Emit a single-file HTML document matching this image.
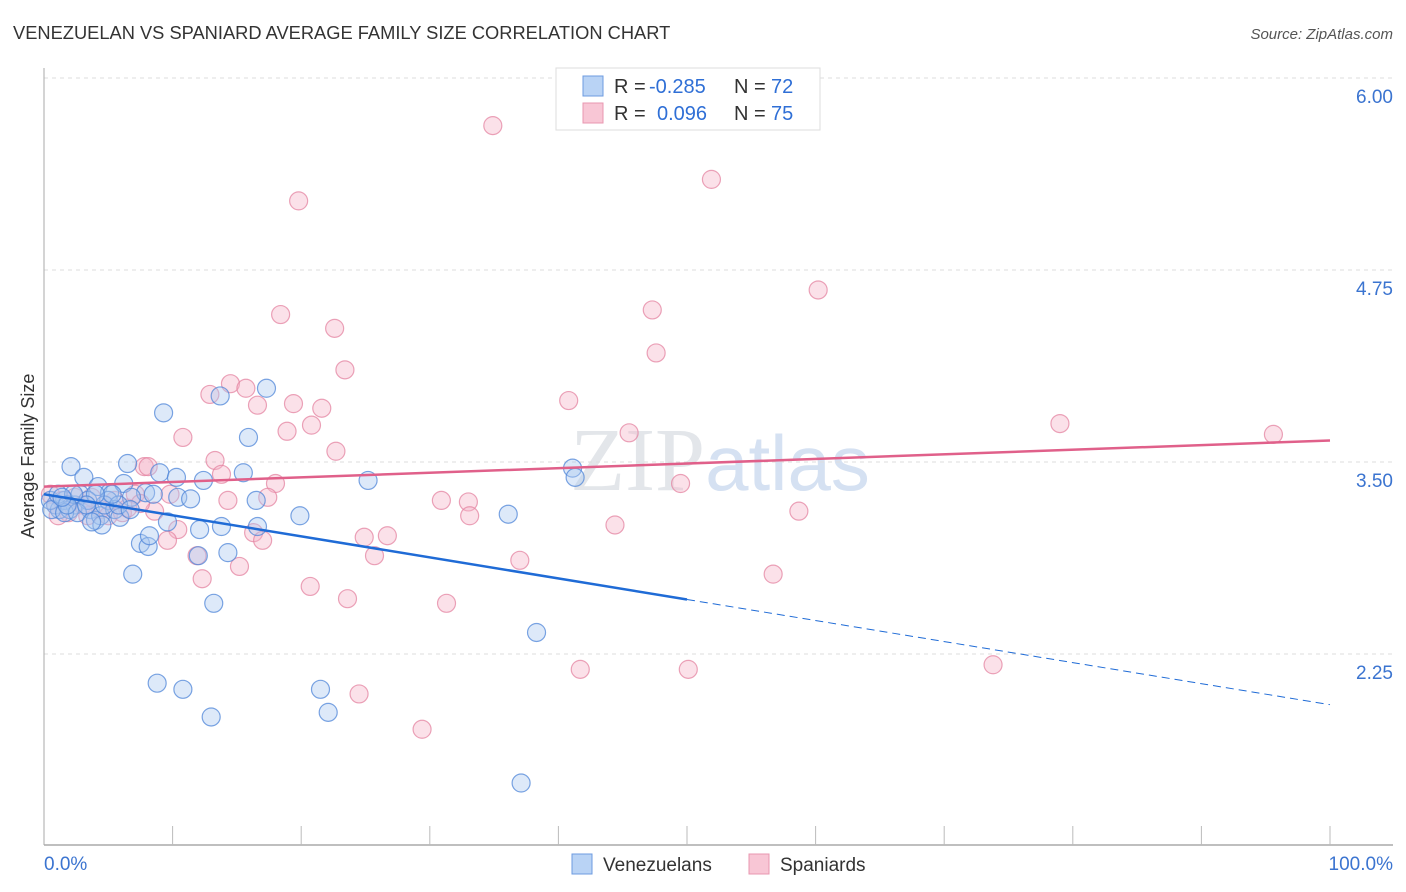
<!DOCTYPE html>
<html><head><meta charset="utf-8"><style>
body{margin:0;background:#fff;font-family:"Liberation Sans",sans-serif;}
svg{display:block}
</style></head><body>
<svg id="chart" width="1406" height="892" xmlns="http://www.w3.org/2000/svg">
<text x="13" y="39" font-size="18.3" fill="#333" font-family="Liberation Sans, sans-serif">VENEZUELAN VS SPANIARD AVERAGE FAMILY SIZE CORRELATION CHART</text>
<text x="1393" y="39" font-size="15" fill="#555" text-anchor="end" font-style="italic">Source: ZipAtlas.com</text>
<text x="720" y="490" font-size="90" fill="#e3e6ea" text-anchor="middle" font-family="Liberation Serif, serif">ZIP<tspan fill="#d5e1f2" font-family="Liberation Sans, sans-serif" font-size="78">atlas</tspan></text>
<g id="grid"></g>
<g id="axes"></g>
<g id="points"></g>
<g id="trends"></g>
<text transform="translate(34,456) rotate(-90)" font-size="18" fill="#333" text-anchor="middle">Average Family Size</text>
<g>
<rect x="556" y="68" width="264" height="62" fill="#fff" stroke="#ddd"/>
<rect x="583" y="76" width="20" height="20" fill="#b9d3f5" stroke="#6d9be0"/>
<rect x="583" y="103" width="20" height="20" fill="#f8c6d5" stroke="#e897b0"/>
<text x="614" y="93" font-size="20" fill="#333">R =</text>
<text x="649" y="93" font-size="20" fill="#2f6fd6">-0.285</text>
<text x="734" y="93" font-size="20" fill="#333">N =</text>
<text x="771" y="93" font-size="20" fill="#2f6fd6">72</text>
<text x="614" y="120" font-size="20" fill="#333">R =</text>
<text x="657" y="120" font-size="20" fill="#2f6fd6">0.096</text>
<text x="734" y="120" font-size="20" fill="#333">N =</text>
<text x="771" y="120" font-size="20" fill="#2f6fd6">75</text>
</g>
<g>
<rect x="572" y="854" width="20" height="20" fill="#b9d3f5" stroke="#6d9be0"/>
<text x="603" y="871" font-size="19" fill="#333">Venezuelans</text>
<rect x="749" y="854" width="20" height="20" fill="#f8c6d5" stroke="#e897b0"/>
<text x="780" y="871" font-size="19" fill="#333">Spaniards</text>
</g>
</svg>
<script>
const yTicks=[6.00,4.75,3.50,2.25];
const yTickLabels=["6.00","4.75","3.50","2.25"];
const xTickLabels=["0.0%","100.0%"];
const blueX=[2.1,3.1,6.5,9.3,13.7,17.3,15.9,15.5,9.0,10.3,12.4,7.9,4.2,5.1,6.2,6.8,8.5,10.4,11.4,16.5,19.9,25.2,36.1,41.1,41.3,9.6,12.1,13.8,16.6,7.5,8.1,8.2,12.0,14.3,6.9,13.2,38.3,8.8,10.8,21.5,13.0,22.1,37.1,0.9,1.2,1.6,2.4,2.8,3.6,4.0,4.4,5.0,5.5,5.9,0.5,0.6,2.0,3.4,1.1,1.6,2.6,4.7,5.8,5.3,4.0,3.3,2.3,1.8,4.5,3.7,6.7,1.4];
const blueY=[3.47,3.40,3.49,3.82,3.93,3.98,3.66,3.43,3.43,3.40,3.38,3.30,3.34,3.30,3.36,3.27,3.29,3.27,3.26,3.25,3.15,3.38,3.16,3.46,3.40,3.11,3.06,3.08,3.08,2.97,2.95,3.02,2.89,2.91,2.77,2.58,2.39,2.06,2.02,2.02,1.84,1.87,1.41,3.22,3.19,3.25,3.22,3.29,3.19,3.12,3.15,3.25,3.19,3.14,3.25,3.19,3.19,3.25,3.29,3.17,3.17,3.22,3.22,3.29,3.29,3.22,3.29,3.22,3.09,3.11,3.19,3.27];
const pinkX=[34.9,51.9,19.8,60.2,47.3,18.4,22.6,47.6,23.4,14.5,15.7,12.9,16.6,19.4,21.6,40.8,79.0,95.6,10.8,45.5,18.9,20.8,22.7,13.3,13.8,7.8,8.1,49.5,18.0,9.8,14.3,17.4,30.9,33.0,33.1,8.6,58.7,44.4,16.3,17.0,10.4,24.9,26.7,9.6,25.7,37.0,11.9,15.2,56.7,12.3,20.7,23.6,31.3,41.7,50.1,73.8,24.5,29.4,0.5,0.9,1.4,1.9,2.4,3.0,3.7,4.4,5.0,5.5,6.1,6.5,7.1,7.5,3.4,1.1];
const pinkY=[5.69,5.34,5.20,4.62,4.49,4.46,4.37,4.21,4.10,4.01,3.98,3.94,3.87,3.88,3.85,3.90,3.75,3.68,3.66,3.69,3.70,3.74,3.57,3.51,3.42,3.47,3.47,3.36,3.36,3.29,3.25,3.27,3.25,3.24,3.15,3.18,3.18,3.09,3.04,2.99,3.06,3.01,3.02,2.99,2.89,2.86,2.89,2.82,2.77,2.74,2.69,2.61,2.58,2.15,2.15,2.18,1.99,1.76,3.29,3.22,3.25,3.17,3.27,3.22,3.27,3.19,3.15,3.25,3.17,3.20,3.29,3.23,3.15,3.15];
const blueTrend=[3.29,1.92];
const blueSolidEnd=50;
const pinkTrend=[3.34,3.64];

const NS="http://www.w3.org/2000/svg";
const X0=44,X1=1330;
function xs(p){return X0+(X1-X0)*p/100;}
function ys(v){return 462-(v-3.5)*153.6;}
function mk(tag,attrs,parent){const e=document.createElementNS(NS,tag);for(const k in attrs)e.setAttribute(k,attrs[k]);parent.appendChild(e);return e;}
const grid=document.getElementById('grid'),axes=document.getElementById('axes'),pts=document.getElementById('points'),tr=document.getElementById('trends');
yTicks.forEach((v,i)=>{
  const l=mk('line',{x1:X0,x2:1393,y1:ys(v),y2:ys(v),stroke:'#ddd','stroke-dasharray':'4,4'},grid);
  
  
  const t=mk('text',{x:1393,y:ys(v)+25,'font-size':19,fill:'#3b74d0','text-anchor':'end'},grid);
  t.textContent=yTickLabels[i];
  
  
});
let a=mk('line',{x1:X0,x2:X0,y1:68,y2:845,stroke:'#aaa'},axes);


a=mk('line',{x1:X0,x2:1393,y1:845,y2:845,stroke:'#aaa','stroke-width':1.5},axes);


for(let i=1;i<=10;i++){
  const tk=mk('line',{x1:xs(i*10),x2:xs(i*10),y1:826,y2:845,stroke:'#bbb'},axes);
  
  
}
let t=mk('text',{x:X0,y:870,'font-size':19,fill:'#3b74d0'},axes);t.textContent=xTickLabels[0];


t=mk('text',{x:1393,y:870,'font-size':19,fill:'#3b74d0','text-anchor':'end'},axes);t.textContent=xTickLabels[1];


function dots(X,Y,fill,stroke,name){
  X.forEach((x,i)=>{
    const c=mk('circle',{cx:xs(x),cy:ys(Y[i]),r:9,fill:fill,'fill-opacity':0.4,stroke:stroke,'stroke-opacity':0.75,'stroke-width':1.2},pts);
    
    
  });
}
dots(pinkX,pinkY,'#f6b5c8','#e484a2','spaniard-point');
dots(blueX,blueY,'#a9c8ef','#4f86d8','venezuelan-point');
function tv(tr2,p){return tr2[0]+(tr2[1]-tr2[0])*p/100;}
let l=mk('line',{x1:xs(0),y1:ys(tv(pinkTrend,0)),x2:xs(100),y2:ys(tv(pinkTrend,100)),stroke:'#e0608a','stroke-width':2.5},tr);


l=mk('line',{x1:xs(0),y1:ys(tv(blueTrend,0)),x2:xs(blueSolidEnd),y2:ys(tv(blueTrend,blueSolidEnd)),stroke:'#1f6bd6','stroke-width':2.5},tr);


l=mk('line',{x1:xs(blueSolidEnd),y1:ys(tv(blueTrend,blueSolidEnd)),x2:xs(100),y2:ys(tv(blueTrend,100)),stroke:'#1f6bd6','stroke-width':1,'stroke-dasharray':'8,5'},tr);


</script>
</body></html>
